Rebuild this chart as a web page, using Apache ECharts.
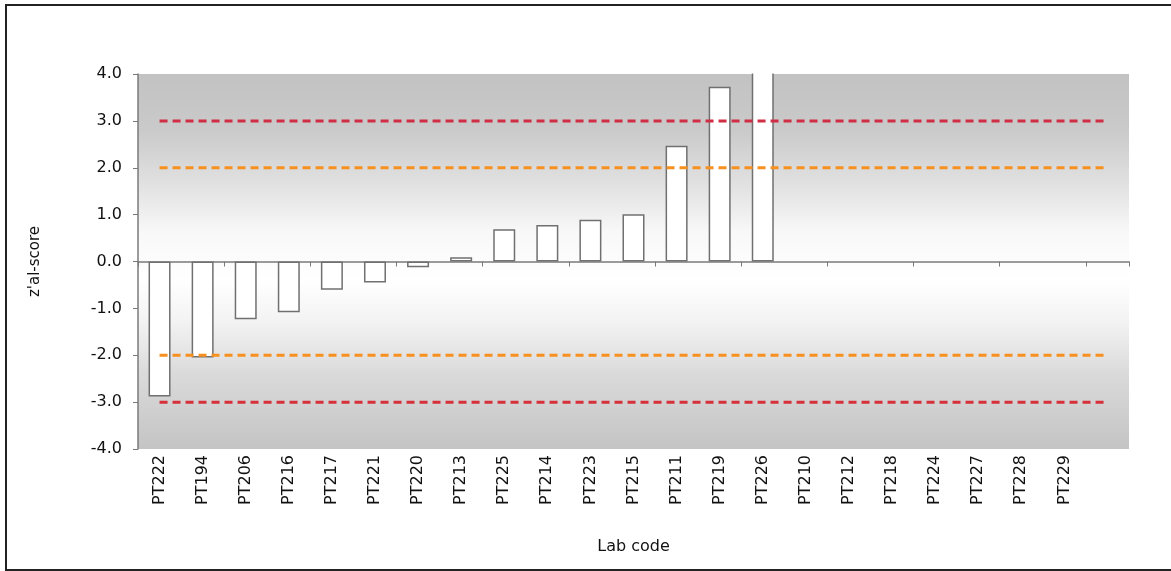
<!DOCTYPE html>
<html>
<head>
<meta charset="utf-8">
<script src="https://cdn.jsdelivr.net/npm/echarts@6/dist/echarts.min.js"></script>
<style>
    html, body { margin: 0; padding: 0; background: #fff; }
    #chart { width: 1171px; height: 571px; }
</style>
</head>
<body>
<div id="chart"></div>
<script>
var labCodes = ['PT222', 'PT194', 'PT206', 'PT216', 'PT217', 'PT221', 'PT220', 'PT213',
    'PT225', 'PT214', 'PT223', 'PT215', 'PT211', 'PT219', 'PT226', 'PT210', 'PT212',
    'PT218', 'PT224', 'PT227', 'PT228', 'PT229', ''];
var scores = [-2.88, -2.05, -1.23, -1.08, -0.6, -0.45, -0.12, 0.09,
    0.69, 0.78, 0.89, 1.01, 2.47, 3.73, 6.5, null, null,
    null, null, null, null, null, null];
var yTicks = [-4, -3, -2, -1, 0, 1, 2, 3, 4];
var actionLimit = 3;
var warningLimit = 2;

var fontName = 'DejaVu Sans';

function flatLine(val) {
    return labCodes.map(function () { return val; });
}

function limitSeries(val, color) {
    return {
        type: 'line',
        xAxisIndex: 1,
        data: flatLine(val),
        symbol: 'none',
        silent: true,
        z: 5,
        lineStyle: { color: color, width: 3, type: [8, 5] }
    };
}

var chart = echarts.init(document.getElementById('chart'));

var option = {
    animation: false,
    backgroundColor: '#fff',
    textStyle: { fontFamily: fontName },
    grid: {
        left: 138,
        right: 42,
        top: 74,
        bottom: 122,
        show: true,
        borderWidth: 0,
        backgroundColor: {
            type: 'linear', x: 0, y: 0, x2: 0, y2: 1,
            colorStops: [
                { offset: 0, color: '#c2c2c2' },
                { offset: 0.15, color: '#cacaca' },
                { offset: 0.3, color: '#e2e2e2' },
                { offset: 0.42, color: '#f8f8f8' },
                { offset: 0.55, color: '#ffffff' },
                { offset: 0.66, color: '#f3f3f3' },
                { offset: 0.8, color: '#dadada' },
                { offset: 1, color: '#c4c4c4' }
            ]
        }
    },
    graphic: [{
        // hides the part of the off-scale bar above the plot
        type: 'rect',
        z: 100,
        shape: { x: 140, y: 0, width: 1025, height: 73.5 },
        style: { fill: '#fff' },
        silent: true
    }, {
        type: 'rect',
        z: 101,
        shape: { x: 6, y: 5, width: 1180, height: 565 },
        style: { fill: 'none', stroke: '#222', lineWidth: 2 },
        silent: true
    }],
    xAxis: [{
        type: 'category',
        data: labCodes,
        position: 'bottom',
        axisLine: { show: false, onZero: false },
        axisTick: { show: false },
        axisLabel: { rotate: 90, margin: 6, color: '#111', fontSize: 16, interval: 0 },
        name: 'Lab code',
        nameLocation: 'middle',
        nameGap: 90,
        nameTextStyle: { color: '#111', fontSize: 16 }
    }, {
        type: 'category',
        data: labCodes,
        position: 'bottom',
        axisLine: { show: true, onZero: true, lineStyle: { color: '#7a7a7a', width: 1.5 } },
        axisTick: { show: true, length: 5, lineStyle: { color: '#7a7a7a' } },
        axisLabel: { show: false }
    }],
    yAxis: {
        type: 'value',
        min: yTicks[0],
        max: yTicks[yTicks.length - 1],
        interval: 1,
        splitLine: { show: false },
        axisLine: { show: true, onZero: false, lineStyle: { color: '#7a7a7a', width: 1.5 } },
        axisTick: { show: true, length: 5, lineStyle: { color: '#7a7a7a' } },
        axisLabel: {
            color: '#111',
            fontSize: 16,
            margin: 16,
            formatter: function (val) {
                return val.toFixed(1);
            }
        },
        name: "z'al-score",
        nameLocation: 'middle',
        nameGap: 95,
        nameTextStyle: { color: '#111', fontSize: 15 }
    },
    series: [{
        type: 'bar',
        xAxisIndex: 0,
        data: scores,
        barWidth: 22,
        clip: false,
        z: 3,
        itemStyle: { color: '#ffffff', borderColor: '#707070', borderWidth: 1.5 }
    },
        limitSeries(actionLimit, '#cf2e45'),
        limitSeries(warningLimit, '#f7901e'),
        limitSeries(-warningLimit, '#f7901e'),
        limitSeries(-actionLimit, '#d6303a')
    ]
};

chart.setOption(option);
</script>
</body>
</html>
